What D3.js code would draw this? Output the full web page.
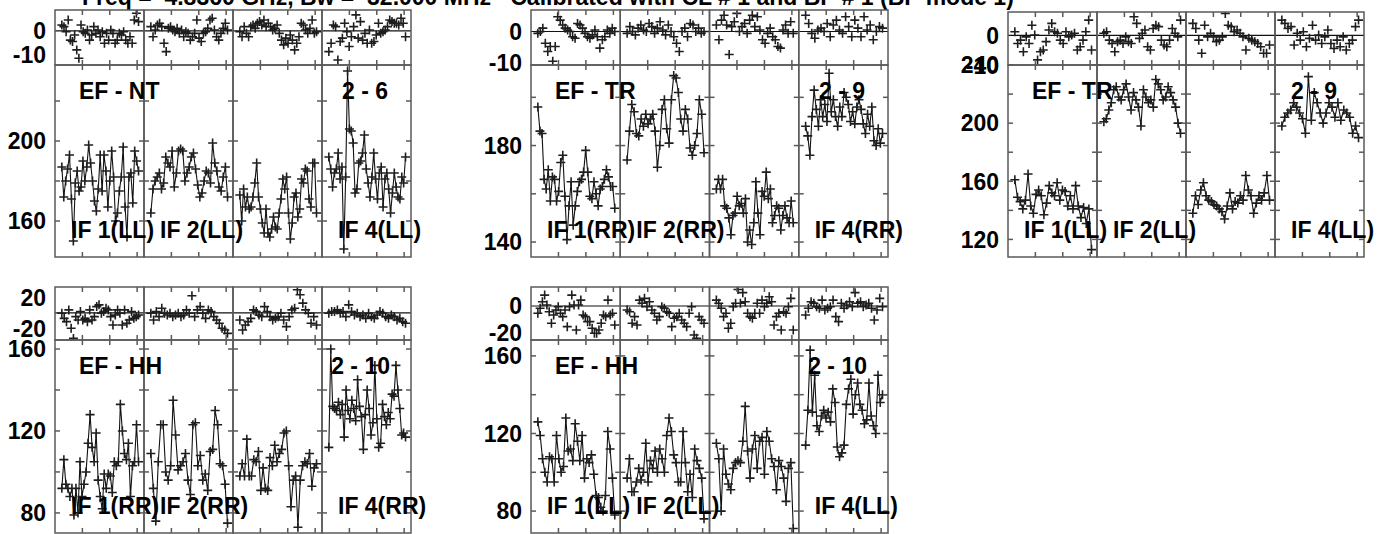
<!DOCTYPE html>
<html>
<head>
<meta charset="utf-8">
<script src="https://cdn.jsdelivr.net/npm/d3@7"></script>
<style>
  html, body { margin: 0; padding: 0; background: #fff; }
  svg { display: block; font-family: "Liberation Sans", Arial, sans-serif; font-weight: bold; }
</style>
</head>
<body>
<div id="chart"></div>
<script>
// ---------------------------------------------------------------------------
// DATA (one array per IF column)
// ---------------------------------------------------------------------------
const TITLE = "Freq =  4.8360 GHz, Bw =  32.000 MHz   Calibrated with CL # 1 and BP # 1 (BP mode 1)";
const ifNames = ["IF 1", "IF 2", "IF 3", "IF 4"];
const labelledIfs = [0, 1, 3];           // IF 3 carries no label on the plot
const CH_FIRST = 5, CH_LAST = 61;        // first / last plotted channel
const CH_SPAN = 65;                      // channel extent of one IF column
const chanTicks = [20, 40, 60];

// EF - NT, 2 - 6, LL
const efNtPhaseLL = [
  [2.5,1.8,-0.3,4.6,-3.8,-4.4,-1.7,-7.9,-11.4,2.5,-0.3,-1,0.4,-3.8,-1.7,1.8,-1,0.4,-2.4,-0.3,-5.1,-1,-3.8,0.4,-1,-5.1,-3.8,-1,-1.7,-0.3,-3.8,-5.1,-2.4,-5.1,4.6,7.4,3.9],
  [1.8,-2.4,0.4,2.5,3.2,1.8,-5.1,-8.6,1.1,1.8,0.4,-0.3,1.1,-1,0.4,-2.4,-0.3,-1,-3.8,-2.4,-1,4.6,-3,-4.4,-1,-0.3,1.1,4.6,5.3,0.4,-2.4,-3.8,-1,1.1,3.2,0.4],
  [-0.3,-2.4,1.8,-1,-2.4,1.8,2.5,1.1,3.2,3.9,2.5,4.6,1.8,3.2,1.8,0.4,1.1,2.5,-1,-3.8,-5.8,-3,-5.1,-1.7,-3.8,-7.9,-5.1,-2.4,3.2,2.5,0.4,-1,1.1,4.6,-1,-0.3],
  [-8.6,-5.1,2.5,1.8,-12.1,-4.4,-3,3.2,-0.3,-6.5,-2.4,1.8,6.7,-3,3.9,-3.8,-1,-5.1,0.4,-5.1,-4.4,-1.7,3.2,-1,-0.3,0.4,1.8,4.6,3.9,3.2,3.2,2.5,5.3,3.2,-2.4]
];
const efNtAmpLL = [
  [187,172,180,186,193,171,150,179,185,175,177,190,180,187,198,189,180,170,165,176,193,175,193,185,167,180,195,182,160,164,175,182,197,167,152,182,184,169,195,190,185],
  [164,176,180,182,184,176,179,192,189,187,195,177,184,195,196,195,180,184,187,192,194,186,178,172,174,180,185,184,179,199,189,185,177,175,182,187,172],
  [173,160,176,167,172,166,167,172,179,189,172,166,159,154,166,154,152,156,162,157,156,164,171,181,176,182,164,151,159,172,174,162,166,181,179,186,185,171,167,189,189,164],
  [192,186,177,184,186,194,181,187,146,182,235,206,205,199,174,176,189,190,194,203,186,179,172,182,194,181,171,184,187,167,181,184,176,164,174,184,177,172,171,182,179,192]
];

// EF - TR, 2 - 9, RR
const efTrPhaseRR = [
  [-0.6,0,1.1,-3.8,-6.5,-4.9,-9.7,-4.9,4.8,3.7,2.1,1.1,0.5,0,-1.7,-2.2,2.6,2.1,1.1,-0.6,-1.7,-2.2,-1.1,0.5,-1.7,-5.4,-2.7,-1.7,0.5,-0.6,1.1,0],
  [-0.6,1.6,0,-1.1,1.1,2.1,0.5,0,2.6,1.6,-0.6,1.1,3.2,0.5,-1.1,2.1,0,-1.7,-3.8,-6.5,0,1.1,-1.7,2.6,2.1,0,1.1,-0.6,0],
  [2.1,-2.7,3.7,5.3,2.1,-7.5,1.6,3.2,5.9,0,1.6,2.6,-0.6,3.7,5.3,1.6,4.8,0.5,-2.7,-3.8,-0.6,1.1,-1.7,-2.7,-4.9,-5.4,0.5,2.1,-0.6,3.2,-0.6],
  [5.3,2.6,-0.6,-2.2,0.5,1.1,0,2.6,-1.7,2.1,3.7,0.5,-0.6,4.8,1.6,-1.7,3.7,1.1,-1.7,4.8,0.5,2.1,-2.7,0,1.6,1.1]
];
const efTrAmpRR = [
  [196,186,185,166,162,170,157,167,166,157,161,173,176,159,141,155,165,147,155,161,165,166,169,178,169,159,158,165,160,155,162,163,166,170,167,163,163,154],
  [174,186,197,194,185,184,191,188,193,189,191,193,186,171,180,195,199,187,181,199,209,208,202,191,186,195,191,179,176,180,185,199,193,177],
  [162,166,162,166,155,154,150,143,151,152,159,155,156,152,158,140,145,139,148,165,152,143,161,159,169,158,162,148,151,155,154,145,151,155,150,148,157,148],
  [188,184,176,192,203,195,188,199,192,197,190,210,194,199,192,188,196,192,202,200,197,190,194,189,196,199,195,189,185,193,188,196,182,180,187,181,185]
];

// EF - TR, 2 - 9, LL
const efTrPhaseLL = [
  [1.2,-2.7,-1.6,-5.5,-0.5,-2.7,3.4,0.1,-8.2,-5.5,-4.9,-2.1,1.8,4,1.2,0.7,-1.6,-2.7,1.2,-0.5,0.1,0.7,-4.9,-3.8,-1.6,1.2,5.1,-4.9],
  [0.7,1.2,-1.6,-2.7,-5.5,-2.1,-1.6,-2.7,-0.5,-2.1,-2.7,6.2,4,-1,0.7,1.8,-3.8,-4.9,2.3,3.4,2.9,-1.6,-3.2,-3.8,-1.6,2.3,0.7,-0.5,5.1],
  [4,2.3,-1.6,-6,3.4,-0.5,0.7,-0.5,-2.1,-1.6,-0.5,7.3,3.4,2.9,1.2,1.8,0.7,-0.5,-4.9,-1,-1.6,-2.1,-2.7,-3.8,-6,-6,-3.2],
  [5.1,4,2.3,2.9,-3.2,0.7,-1.6,1.2,-3.8,-1,3.4,-1.6,0.1,-2.7,-0.5,1.8,-2.7,-4.4,-1.6,-3.8,-0.5,-4.9,-2.7,-1.6,2.9,5.1]
];
const efTrAmpLL = [
  [161,149,146,141,147,165,143,138,151,154,150,137,145,157,152,150,159,147,154,153,143,150,141,157,143,135,142,131,141,113],
  [201,203,209,214,223,225,218,216,223,227,218,209,221,216,211,198,223,218,214,216,211,230,227,223,216,218,225,221,216,211,200,193],
  [138,150,144,154,159,150,147,146,144,143,141,139,134,143,152,141,146,145,150,147,164,154,150,138,145,150,147,152,164,147],
  [198,204,207,209,214,211,207,203,193,232,202,221,214,207,200,207,214,211,204,214,202,209,207,204,193,198,190]
];

// EF - HH, 2 - 10, RR
const efHhPhaseRR = [
  [-0.5,-7,-11.3,3.9,-19.9,-32.9,-4.8,-9.1,1.7,-9.1,-7,-11.3,3.9,-9.1,-4.8,8.2,10.4,-0.5,1.7,6,3.9,-4.8,-15.6,-2.6,3.9,-0.5,-15.6,3.9,-13.4,-9.1,1.7,-7,-4.8,-2.6],
  [-0.5,-9.1,1.7,-4.8,6,-0.5,-2.6,-0.5,-4.8,-2.6,-0.5,-4.8,-2.6,3.9,-0.5,22.1,-4.8,3.9,8.2,-0.5,-7,3.9,1.7,-4.8,-9.1,-13.4,-19.9,-22.1,-26.4],
  [-9.1,-22.1,-15.6,-11.3,-7,3.9,1.7,-2.6,-4.8,8.2,1.7,-4.8,-9.1,-7,-4.8,-0.5,-9.1,-17.7,-4.8,3.9,6,29.9,23.4,12.6,3.9,-0.5,-13.4,-4.8,-15.6],
  [-0.5,1.7,1.7,3.9,-0.5,1.7,-4.8,10.4,1.7,-2.6,-0.5,-4.8,-2.6,-7,-0.5,-4.8,-7,-2.6,1.7,-0.5,-4.8,-7,-2.6,-4.8,-9.1,-7,-11.3,-13.4]
];
const efHhAmpRR = [
  [92,106,94,92,88,92,79,92,80,105,88,94,100,114,128,112,105,119,96,88,82,99,92,99,98,90,105,103,105,133,120,109,106,114,88,103,105,123,105],
  [109,92,76,105,123,123,100,96,103,135,118,101,103,105,109,96,89,123,124,103,108,96,99,91,110,111,130,123,104,103,94,75],
  [98,104,98,116,98,98,106,105,110,91,102,92,91,107,103,113,105,109,111,119,120,103,83,96,98,73,96,103,105,104,109,93,102,104],
  [112,160,132,131,130,134,128,133,117,140,130,126,135,131,125,145,132,127,111,128,140,131,118,124,152,126,112,114,133,127,123,129,126,138,137,152,140,131,118,119,117]
];

// EF - HH, 2 - 10, LL
const efHhPhaseLL = [
  [-5.4,-1.7,3.2,8.1,0.7,-4.2,-12.8,-6.7,-3,-0.5,-5.4,-7.9,-3,-15.3,-0.5,8.1,0.7,-17.8,0.7,4.4,-6.7,-7.9,-11.6,-11.6,-16.5,-20.2,-20.2,-17.8,-12.8,-6.7,-7.9,4.4,-6.7,-5.4,-14.1],
  [-3,-4.2,-12.8,-7.9,-14.1,4.4,2,5.7,-0.5,3.2,-3,-5.4,-10.4,-7.9,-0.5,-1.7,-4.2,-5.4,-15.3,-9.1,-7.9,-5.4,-10.4,-12.8,-15.3,-5.4,-0.5,-21.5,-23.9,-7.9,-10.4,-12.8],
  [4.4,2,-1.7,-7.9,-5.4,-16.5,-12.8,-0.5,2,12.3,2,9.9,3.2,-5.4,-7.9,-9.1,-5.4,2,-5.4,4.4,-0.5,2,6.9,3.2,-14.1,-7.9,-5.4,-17.8,-4.2,-5.4,-0.5,5.7,-17.8],
  [-6.7,-1.7,3.2,2,-0.5,-1.7,4.4,-3,-1.7,-0.5,4.4,-7.9,-11.6,2,-1.7,0.7,3.2,-0.5,9.9,2,3.2,-0.5,0.7,2,-1.7,-10.4,-3,5.7,-0.5]
];
const efHhAmpLL = [
  [126,119,107,100,95,108,107,95,119,107,100,103,128,111,112,106,125,116,106,119,97,107,105,109,99,88,87,82,80,88,121,112,97,78],
  [97,107,90,90,95,102,96,100,115,95,106,102,111,100,112,107,100,119,128,121,109,105,95,95,121,105,90,99,87,112,106,102,97,76],
  [115,107,80,112,99,94,91,102,105,106,105,116,134,111,97,112,119,102,116,118,99,121,116,107,103,91,106,103,97,85,102,105,71],
  [114,132,163,131,150,124,121,129,132,128,131,126,143,136,113,108,110,114,135,143,148,130,140,146,135,132,125,127,146,129,124,120,150,136,140]
];

// ---------------------------------------------------------------------------
// LAYOUT (one block of four IF columns per baseline / polarization)
// ---------------------------------------------------------------------------
const blocks = [
  { x0: 55, x1: 411, yTop: 10, yMid: 65, yBot: 257,
    phaseDomain: [-14.2, 8.75], phaseLabels: [0, -10],
    ampDomain: [142, 238], ampTicks: [160, 180, 200, 220], ampLabels: [160, 200],
    baseline: "EF - NT", antennas: "2 - 6", antPad: 23, pol: "LL", phase: efNtPhaseLL, amp: efNtAmpLL },
  { x0: 531, x1: 888, yTop: 10, yMid: 65, yBot: 257,
    phaseDomain: [-10.9, 7], phaseLabels: [0, -10],
    ampDomain: [133.8, 213.4], ampTicks: [140, 160, 180, 200], ampLabels: [140, 180],
    baseline: "EF - TR", antennas: "2 - 9", antPad: 23, pol: "RR", phase: efTrPhaseRR, amp: efTrAmpRR },
  { x0: 1008, x1: 1364, yTop: 12, yMid: 65, yBot: 257,
    phaseDomain: [-9.9, 7.8], phaseLabels: [0, -10],
    ampDomain: [107.9, 240], ampTicks: [120, 140, 160, 180, 200, 220, 240], ampLabels: [120, 160, 200, 240],
    baseline: "EF - TR", antennas: "2 - 9", antPad: 27, pol: "LL", phase: efTrPhaseLL, amp: efTrAmpLL },
  { x0: 55, x1: 411, yTop: 287, yMid: 340, yBot: 533,
    phaseDomain: [-35, 33.5], phaseLabels: [20, -20],
    ampDomain: [70.2, 164.4], ampTicks: [80, 100, 120, 140, 160], ampLabels: [80, 120, 160],
    baseline: "EF - HH", antennas: "2 - 10", antPad: 21, pol: "RR", phase: efHhPhaseRR, amp: efHhAmpRR },
  { x0: 531, x1: 888, yTop: 287, yMid: 340, yBot: 533,
    phaseDomain: [-25.2, 14.1], phaseLabels: [0, -20],
    ampDomain: [68.7, 168.2], ampTicks: [80, 100, 120, 140, 160], ampLabels: [80, 120, 160],
    baseline: "EF - HH", antennas: "2 - 10", antPad: 21, pol: "LL", phase: efHhPhaseLL, amp: efHhAmpLL }
];

const FRAME = "#5a5a5a";
const MARK = "#1e1e1e";
const FONT = 23;
const TICK = 5;

const svg = d3.select("#chart").append("svg")
  .attr("width", 1391)
  .attr("height", 534);

svg.append("rect").attr("width", 1391).attr("height", 534).attr("fill", "#fff");

svg.append("text")
  .attr("x", 82).attr("y", 5)
  .attr("font-size", FONT)
  .style("white-space", "pre")
  .text(TITLE);

const defs = svg.append("defs");
const plus = (x, y) => `M${x - 4.5},${y}h9M${x},${y - 4.5}v9`;

blocks.forEach((b, bi) => {
  const colW = (b.x1 - b.x0) / 4;
  const yPhase = d3.scaleLinear().domain(b.phaseDomain).range([b.yMid, b.yTop]);
  const yAmp = d3.scaleLinear().domain(b.ampDomain).range([b.yBot, b.yMid]);
  const g = svg.append("g");

  defs.append("clipPath").attr("id", `ph${bi}`)
    .append("rect").attr("x", b.x0).attr("y", b.yTop).attr("width", b.x1 - b.x0).attr("height", b.yMid - b.yTop);
  defs.append("clipPath").attr("id", `am${bi}`)
    .append("rect").attr("x", b.x0).attr("y", b.yMid).attr("width", b.x1 - b.x0).attr("height", b.yBot - b.yMid);

  const phaseLayer = g.append("g").attr("clip-path", `url(#ph${bi})`);
  const ampLayer = g.append("g").attr("clip-path", `url(#am${bi})`);
  const axes = g.append("g").attr("stroke", FRAME).attr("stroke-width", 1.5).attr("fill", "none");

  // zero phase line
  phaseLayer.append("line")
    .attr("x1", b.x0).attr("x2", b.x1)
    .attr("y1", yPhase(0)).attr("y2", yPhase(0))
    .attr("stroke", "#111").attr("stroke-width", 1.2);

  for (let c = 0; c < 4; c++) {
    const cx0 = b.x0 + c * colW;
    const cx1 = cx0 + colW;
    const x = d3.scaleLinear().domain([0, CH_SPAN]).range([cx0, cx1]);

    const ph = b.phase[c].map((v, i, a) => [CH_FIRST + i * (CH_LAST - CH_FIRST) / (a.length - 1), v]);
    const am = b.amp[c].map((v, i, a) => [CH_FIRST + i * (CH_LAST - CH_FIRST) / (a.length - 1), v]);

    phaseLayer.append("path")
      .attr("d", ph.map(d => plus(x(d[0]), yPhase(d[1]))).join(""))
      .attr("stroke", MARK).attr("stroke-width", 1.6).attr("fill", "none");

    ampLayer.append("path")
      .attr("d", d3.line().x(d => x(d[0])).y(d => yAmp(d[1]))(am))
      .attr("stroke", "#111").attr("stroke-width", 1.1).attr("fill", "none");
    ampLayer.append("path")
      .attr("d", am.map(d => plus(x(d[0]), yAmp(d[1]))).join(""))
      .attr("stroke", MARK).attr("stroke-width", 1.6).attr("fill", "none");

    // column frames
    axes.append("rect").attr("x", cx0).attr("y", b.yTop).attr("width", colW).attr("height", b.yMid - b.yTop);
    axes.append("rect").attr("x", cx0).attr("y", b.yMid).attr("width", colW).attr("height", b.yBot - b.yMid);

    // channel ticks, pointing inward on every horizontal edge
    chanTicks.forEach(t => {
      const xt = x(t);
      [[b.yTop, 1], [b.yMid, -1], [b.yMid, 1], [b.yBot, -1]].forEach(([yy, dir]) => {
        axes.append("line").attr("x1", xt).attr("x2", xt).attr("y1", yy).attr("y2", yy + dir * TICK);
      });
    });

    // amplitude ticks on both sides of the column
    b.ampTicks.forEach(t => {
      const yt = yAmp(t);
      axes.append("line").attr("x1", cx0).attr("x2", cx0 + TICK).attr("y1", yt).attr("y2", yt);
      axes.append("line").attr("x1", cx1).attr("x2", cx1 - TICK).attr("y1", yt).attr("y2", yt);
    });

    if (labelledIfs.includes(c)) {
      g.append("text")
        .attr("x", cx0 + 16).attr("y", b.yBot - 19)
        .attr("font-size", FONT)
        .text(`${ifNames[c]}(${b.pol})`);
    }
  }

  // axis labels
  b.phaseLabels.forEach(t => {
    g.append("text").attr("x", b.x0 - 9).attr("y", yPhase(t)).attr("dy", "0.36em")
      .attr("text-anchor", "end").attr("font-size", FONT).text(t);
  });
  b.ampLabels.forEach(t => {
    g.append("text").attr("x", b.x0 - 9).attr("y", yAmp(t)).attr("dy", "0.36em")
      .attr("text-anchor", "end").attr("font-size", FONT).text(t);
  });

  g.append("text").attr("x", b.x0 + 24).attr("y", b.yMid + 34)
    .attr("font-size", FONT).text(b.baseline);
  g.append("text").attr("x", b.x1 - b.antPad).attr("y", b.yMid + 34)
    .attr("text-anchor", "end").attr("font-size", FONT).text(b.antennas);
});
</script>
</body>
</html>
